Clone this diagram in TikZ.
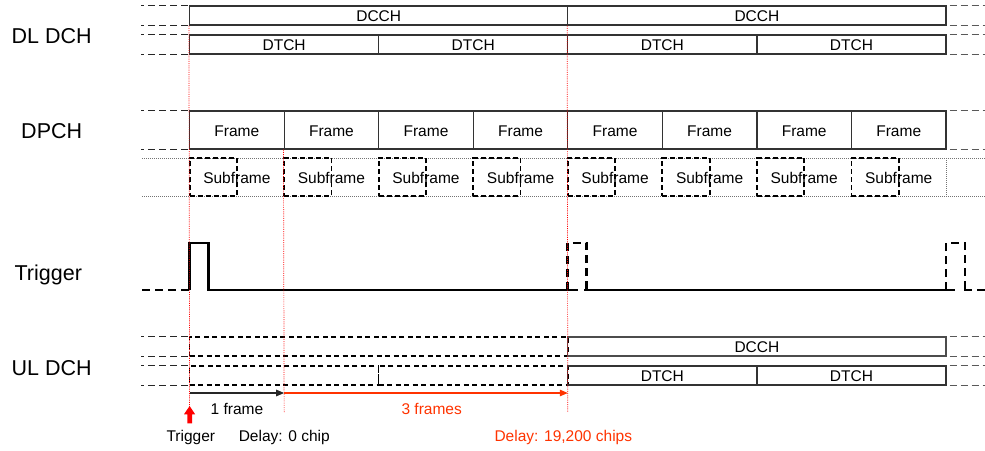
\documentclass[tikz,border=0pt]{standalone}
\usepackage{fontspec}
\setmainfont{Liberation Sans}
\usetikzlibrary{arrows.meta}
\definecolor{redline}{RGB}{255,0,0}
\definecolor{orred}{RGB}{255,51,0}
\begin{document}
\begin{tikzpicture}[x=1pt,y=-1pt,
  small/.style={font=\fontsize{15.5}{18}\selectfont},
  big/.style={font=\fontsize{21.5}{25}\selectfont},
  cell/.style={draw=black!80, line width=1.3pt, inner sep=0pt, minimum height=19pt,
    text height=12.5pt, text depth=0pt, small},
  tallcell/.style={cell, minimum height=38pt},
  dcell/.style={cell, draw=black, dash pattern=on 5pt off 3.5pt, line width=1.5pt},
  sfbox/.style={draw=black, line width=1.8pt, dash pattern=on 5pt off 3pt, inner sep=0pt,
    minimum width=47.3pt, minimum height=38pt},
  stub/.style={draw=black!85, line width=1.4pt, dash pattern=on 7pt off 4pt},
  stubR/.style={draw=black!65, line width=1.4pt, dash pattern=on 7pt off 4pt},
  grid/.style={draw=black!55, line width=0.8pt, dash pattern=on 1pt off 1pt},
  reddot/.style={draw=redline, line width=0.7pt, dash pattern=on 1pt off 1.2pt},
  trig/.style={draw=black, line width=2.8pt, line join=miter, line cap=butt},
  trigd/.style={trig, dash pattern=on 8pt off 5pt},
  lbl/.style={small, anchor=base, inner sep=0pt},
  biglbl/.style={big, anchor=base, inner sep=0pt}
]
\useasboundingbox (0,0) rectangle (985,450);

% ---- left labels
\node[biglbl] (lDL) at (51.7,43.3) {DL DCH};
\node[biglbl] (lDP) at (51.7,138.3) {DPCH};
\node[biglbl] (lTR) at (48.3,280) {Trigger};
\node[biglbl] (lUL) at (51.7,375) {UL DCH};

% ---- DL DCH
\node[cell, minimum width=378.2pt] (dc1) at (378.7,15.5) {DCCH};
\node[cell, minimum width=378.2pt] (dc2) at (756.9,15.5) {DCCH};
\node[cell, minimum width=189.1pt] (dt1) at (284.15,44.5) {DTCH};
\node[cell, minimum width=189.1pt] (dt2) at (473.25,44.5) {DTCH};
\node[cell, minimum width=189.1pt] (dt3) at (662.35,44.5) {DTCH};
\node[cell, minimum width=189.1pt] (dt4) at (851.45,44.5) {DTCH};

% ---- DPCH frames and subframes
\draw[grid] (142,158) -- (985,158);
\draw[grid] (142,196) -- (985,196);
\draw[grid] (946,158) -- (946,196);
\foreach \i in {0,...,7}{
  \pgfmathsetmacro{\xl}{189.6+94.55*\i}
  \node[tallcell, minimum width=94.55pt] (fr\i) at (\xl+47.275,130) {Frame};
  \node[sfbox] (sb\i) at (\xl+23.65,177) {};
  \node[small, inner sep=0pt, text height=12.5pt, text depth=0pt] (st\i) at (\xl+47.275,177) {Subframe};
}

% ---- stubs left
\foreach \n/\a in {dc1/north west, dc1/south west, dt1/north west, dt1/south west, fr0/north west, fr0/south west}{
  \draw[stub] ([xshift=-1pt]\n.\a) -- ++(-47,0);
}
% ---- stubs right
\foreach \n/\a in {dc2/north east, dc2/south east, dt4/north east, dt4/south east, fr7/north east, fr7/south east}{
  \draw[stubR] ([xshift=3pt]\n.\a) -- (985,0 |- \n.\a);
}

% ---- Trigger waveform
\coordinate (t0) at (142,290);
\coordinate (t1) at (189.6,290);
\draw[trigd] (t0) -- (t1);
\draw[trig] (t1) -- (189.6,243) -- (208.6,243) -- (208.6,290) -- (578,290);
\draw[trig] (584,290) -- (955,290);
\draw[trigd] (567.8,290) -- (567.8,243) -- (586.8,243) -- (586.8,290);
\draw[trigd] (946,290) -- (946,243) -- (965,243) -- (965,290);
\draw[trigd] (964,290) -- (985,290);

% ---- UL DCH
\node[dcell, minimum width=378.2pt] (uc0) at (378.7,346.5) {};
\node[dcell, minimum width=189.1pt] (ut0) at (284.15,375.5) {};
\node[dcell, minimum width=189.1pt] (ut1) at (473.25,375.5) {};
\node[cell, draw=black!70, minimum width=378.2pt] (uc1) at (756.9,346.5) {DCCH};
\node[cell, minimum width=189.1pt] (ut2) at (662.35,375.5) {DTCH};
\node[cell, minimum width=189.1pt] (ut3) at (851.45,375.5) {DTCH};
\foreach \n/\a in {uc0/north west, uc0/south west, ut0/north west, ut0/south west}{
  \draw[stub] ([xshift=-1pt]\n.\a) -- ++(-47,0);
}
\foreach \n/\a in {uc1/north east, uc1/south east, ut3/north east, ut3/south east}{
  \draw[stubR] ([xshift=3pt]\n.\a) -- (985,0 |- \n.\a);
}

% ---- red guide lines
\draw[reddot] (dc1.south west) -- (189.6,412);
\draw[reddot] (fr1.south west) -- (284.15,412);
\draw[reddot] (dc2.south west) -- (567.8,412);

% ---- delay arrows
\coordinate (a0) at (189.6,393);
\coordinate (a1) at (284.15,393);
\coordinate (a2) at (567.8,393);
\draw[black!85, line width=1.2pt, -{Triangle[length=8pt,width=6.5pt]}] (a0) -- (a1);
\draw[orred, line width=1.2pt, -{Triangle[length=8pt,width=6.5pt]}] (a1) -- (a2);
\node[lbl] (l1) at (237,414) {1 frame};
\node[lbl, text=orred] (l3) at (431.7,414) {3 frames};

% ---- trigger arrow and labels
\fill[redline] (187.3,423.3) -- (187.3,414.3) -- (184,414.3) -- (189.6,406) -- (195.2,414.3) -- (192,414.3) -- (192,423.3) -- cycle;
\node[lbl] (bT) at (190.8,441.5) {Trigger};
\node[lbl] (bD0) at (284.3,441.5) {Delay: 0 chip};
\node[lbl, text=orred] (bD1) at (563.3,441.5) {Delay: 19,200 chips};
\end{tikzpicture}
\end{document}
